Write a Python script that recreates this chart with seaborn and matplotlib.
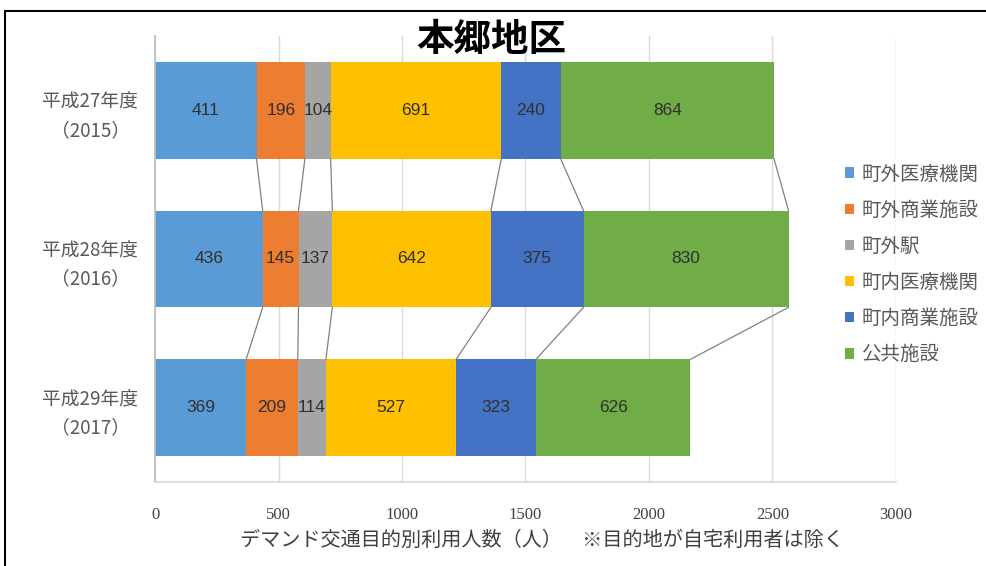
import numpy as np
import pandas as pd
import matplotlib
matplotlib.use("Agg")
import matplotlib.pyplot as plt
import seaborn as sns
from matplotlib.patches import Patch
from matplotlib.lines import Line2D

years = ["平成27年度\n（2015）", "平成28年度\n（2016）", "平成29年度\n（2017）"]
series = ["町外医療機関", "町外商業施設", "町外駅", "町内医療機関", "町内商業施設", "公共施設"]
colors = ["#5B9BD5", "#ED7D31", "#A5A5A5", "#FFC000", "#4472C4", "#70AD47"]
v_out_med = [411, 436, 369]
v_out_shop = [196, 145, 209]
v_out_sta = [104, 137, 114]
v_in_med = [691, 642, 527]
v_in_shop = [240, 375, 323]
v_public = [864, 830, 626]
title = "本郷地区"
xlabel = "デマンド交通目的別利用人数（人）　※目的地が自宅利用者は除く"
xticks = [0, 500, 1000, 1500, 2000, 2500, 3000]

values = np.array([v_out_med, v_out_shop, v_out_sta, v_in_med, v_in_shop, v_public])  # series x year
cum = values.cumsum(axis=0)

sns.set_theme(style="white")
plt.rcParams['font.family'] = ['Noto Sans CJK JP', 'DejaVu Sans']

fig = plt.figure(figsize=(9.87, 5.66), dpi=100)
ax = fig.add_axes([155/987, 1-482/566, (896-155)/987, (482-36)/566])

bw = 0.65
for s in reversed(range(len(series))):
    df = pd.DataFrame({"year": years, "val": cum[s]})
    sns.barplot(data=df, x="val", y="year", orient="h", color=colors[s],
                width=bw, saturation=1, ax=ax, zorder=2, edgecolor="none")

# series lines
for s in range(len(series)):
    for i in range(len(years) - 1):
        ax.plot([cum[s][i], cum[s][i+1]], [i + bw/2, i + 1 - bw/2],
                color="#808080", lw=0.9, zorder=3)

# data labels
for s in range(len(series)):
    for i in range(len(years)):
        start = cum[s][i] - values[s][i]
        ax.text(start + values[s][i]/2, i, str(values[s][i]), ha="center", va="center",
                fontsize=12.5, color="#303030", zorder=4,
                family=['Liberation Sans', 'DejaVu Sans'])

ax.set_xlim(0, 3000)
ax.set_ylim(2.5, -0.5)
ax.set_xticks(xticks)
ax.set_xticklabels([str(t) for t in xticks], fontsize=12, color="#404040",
                   family=['Liberation Serif', 'DejaVu Serif'])
ax.tick_params(axis='x', length=6, width=1, color="#d9d9d9", pad=12, direction="out")
ax.set_yticks(range(len(years)))
ax.set_yticklabels(years, fontsize=13.5, color="#595959", multialignment="center",
                   linespacing=1.45)
ax.tick_params(axis='y', which='major', length=0, pad=12)
ax.set_yticks([0.5, 1.5], minor=True)
ax.tick_params(axis='y', which='minor', length=5, width=1, color="#bfbfbf", direction="out")
ax.grid(axis='x', color="#d9d9d9", lw=1, zorder=0)
ax.set_axisbelow(True)
for side in ["top", "right"]:
    ax.spines[side].set_visible(False)
ax.spines["left"].set_color("#bfbfbf")
ax.spines["bottom"].set_color("#d9d9d9")
ax.set_xlabel(xlabel, fontsize=14.5, color="#404040", va="center")
ax.xaxis.set_label_coords((542-155)/(896-155), -(540-482)/(482-36), transform=ax.transAxes)
ax.set_ylabel("")

fig.text(491/987, 1-40/566, title, ha="center", va="center", fontsize=27,
         fontweight="bold", color="black")

handles = [Patch(facecolor=c, edgecolor="none") for c in colors]
leg = fig.legend(handles, series, loc="upper left", bbox_to_anchor=(828/987, 1-146/566),
                 frameon=False, fontsize=14, handlelength=0.45, handleheight=0.45,
                 handletextpad=0.35, labelspacing=0.78)
for t in leg.get_texts():
    t.set_color("#595959")

# figure border (left and top)
fig.add_artist(Line2D([5/987, 5/987], [0, 1-11/566], color="black", lw=1.5, transform=fig.transFigure))
fig.add_artist(Line2D([5/987, 1], [1-11/566, 1-11/566], color="black", lw=1.5, transform=fig.transFigure))

fig.savefig("out.png", dpi=100)
